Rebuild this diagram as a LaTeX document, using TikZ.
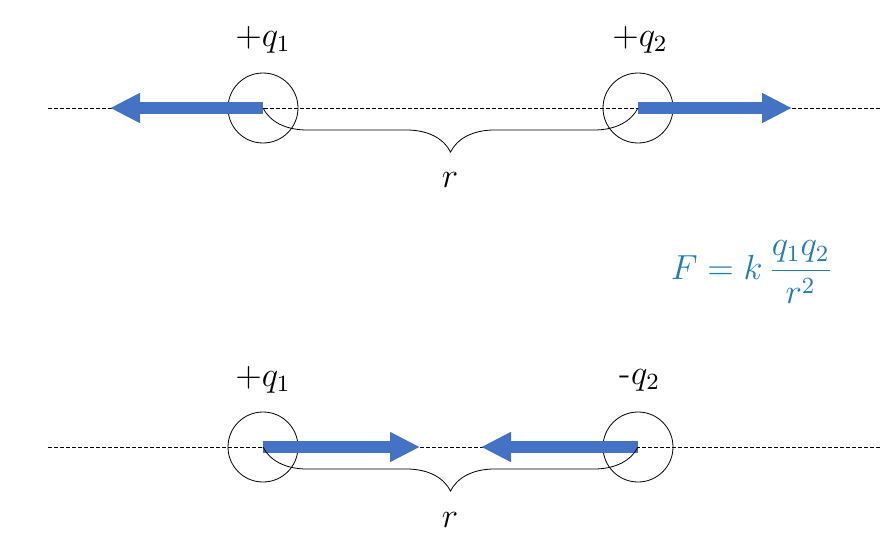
\documentclass[tikz,border=0pt]{standalone}
\usetikzlibrary{arrows.meta,decorations.pathreplacing}
\definecolor{ab}{RGB}{68,114,196}
\definecolor{fb}{RGB}{30,125,185}
\newcommand{\bt}[1]{\scalebox{2.9}{#1}}
\begin{document}
\begin{tikzpicture}[x=1pt,y=-1pt,
 ax/.style={dash pattern=on 4pt off 2pt,line width=0.8pt},
 ch/.style={circle,draw,line width=0.8pt,minimum size=70pt,inner sep=0pt},
 fa/.style={ab,line width=12pt,-{Triangle[length=30pt,width=28pt]}},
 br/.style={decorate,decoration={brace,amplitude=44pt,mirror,aspect=0.5},line width=0.8pt},
 lb/.style={font=\large}]
\path[use as bounding box] (0,0) rectangle (886,543);
% top
\draw[ax] (48,108) -- (880,108);
\node[ch] (a1) at (263,108) {};
\node[ch] (a2) at (638,108) {};
\coordinate (a1c) at (263,108);
\coordinate (a2c) at (638,108);
\coordinate (ta) at (110,108);
\coordinate (tb) at (792,108);
\draw[fa] (a1c) -- (ta);
\draw[fa] (a2c) -- (tb);
\draw[br] (a1c) -- (a2c);
\node[lb] (r1) at (450,180) {\bt{$r$}};
\node[lb] (l1) at (263,40) {\bt{$+q_1$}};
\node[lb] (l2) at (640,40) {\bt{$+q_2$}};
% formula
\node[lb,text=fb] (F) at (752,272) {\bt{$F=k\,\displaystyle\frac{q_1q_2}{r^2}$}};
% bottom
\draw[ax] (48,447) -- (880,447);
\node[ch] (b1) at (263,447) {};
\node[ch] (b2) at (638,447) {};
\coordinate (b1c) at (263,447);
\coordinate (b2c) at (638,447);
\coordinate (tc) at (420,447);
\coordinate (td) at (481,447);
\draw[fa] (b1c) -- (tc);
\draw[fa] (b2c) -- (td);
\draw[br] (b1c) -- (b2c);
\node[lb] (r2) at (450,520) {\bt{$r$}};
\node[lb] (l3) at (263,380) {\bt{$+q_1$}};
\node[lb] (l4) at (640,380) {\bt{-$q_2$}};
\end{tikzpicture}
\end{document}
